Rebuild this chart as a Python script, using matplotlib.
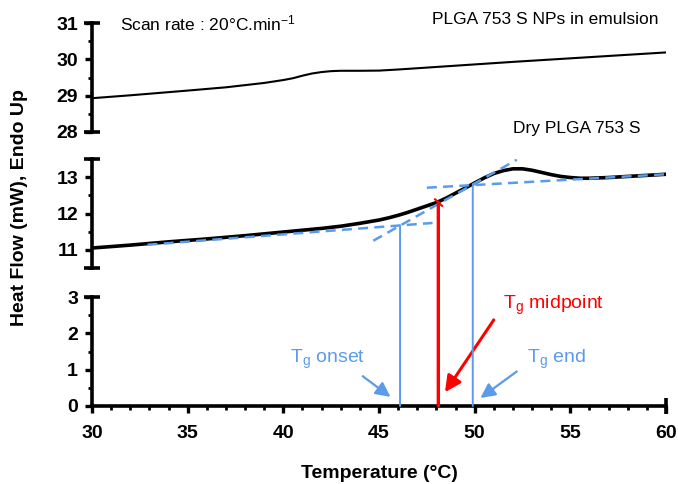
import matplotlib
matplotlib.use('Agg')
import matplotlib.pyplot as plt
from matplotlib.patches import ConnectionPatch

plt.rcParams['font.family'] = ['Liberation Sans', 'DejaVu Sans']
plt.rcParams['mathtext.default'] = 'regular'

# ---- data ----
# PLGA 753 S NPs in emulsion (top panel)
temp_np = [30, 32, 35, 37, 38, 39, 40, 40.5, 41, 41.5, 42, 42.5, 43, 44, 45,
           46, 48, 50, 52, 56, 60]
hf_np = [28.93, 29.01, 29.14, 29.23, 29.29, 29.35, 29.43, 29.48, 29.55, 29.61,
         29.65, 29.675, 29.685, 29.685, 29.69, 29.72, 29.79, 29.86, 29.93,
         30.06, 30.19]

# Dry PLGA 753 S (middle panel)
temp_dry = [30, 32, 34, 36, 38, 40, 42, 43, 44, 45, 45.5, 46, 46.5, 47, 47.5,
            48, 48.5, 49, 49.5, 50, 50.5, 51, 51.5, 52, 52.5, 53, 53.5, 54,
            54.5, 55, 55.5, 56, 57, 58, 60]
hf_dry = [11.05, 11.13, 11.22, 11.30, 11.39, 11.49, 11.59, 11.65, 11.73, 11.82,
          11.88, 11.95, 12.03, 12.12, 12.21, 12.30, 12.42, 12.56, 12.70, 12.84,
          12.98, 13.10, 13.18, 13.23, 13.23, 13.19, 13.13, 13.07, 13.02, 12.99,
          12.97, 12.97, 12.99, 13.02, 13.08]

# construction lines (dashed)
base1_t = [32.9, 47.8]
base1_hf = [11.14, 11.74]
tang_t = [44.7, 52.2]
tang_hf = [11.25, 13.48]
base2_t = [47.5, 60]
base2_hf = [12.71, 13.08]

# Tg onset / midpoint / end
tg_names = ['onset', 'midpoint', 'end']
tg_t = [46.1, 48.1, 49.9]
tg_hf = [11.67, 12.31, 12.80]

blue = '#5B9BEA'
red = '#FF0000'

fig = plt.figure(figsize=(6.78, 4.84), dpi=100)
L = 92 / 678
W = (666 - 92) / 678
H = 109 / 484
ax_top = fig.add_axes([L, (484 - 132) / 484, W, H])
ax_mid = fig.add_axes([L, (484 - 268) / 484, W, H])
ax_bot = fig.add_axes([L, (484 - 406) / 484, W, H])

for ax, ylim, yt in [(ax_top, (28, 31), [28, 29, 30, 31]),
                     (ax_mid, (10.5, 13.5), [11, 12, 13]),
                     (ax_bot, (0, 3), [0, 1, 2, 3])]:
    ax.set_xlim(30, 60)
    ax.set_ylim(*ylim)
    ax.set_yticks(yt)
    ax.set_yticks([v / 2 for v in range(int(ylim[0] * 2), int(ylim[1] * 2) + 1)], minor=True)
    ax.set_xticks(range(30, 61, 5))
    ax.set_xticks(range(30, 61), minor=True)
    ax.spines['top'].set_visible(False)
    ax.spines['right'].set_visible(False)
    ax.spines['left'].set_linewidth(2.6)
    ax.spines['bottom'].set_linewidth(2.6)
    ax.tick_params(which='major', direction='out', length=5, width=2.4,
                   labelsize=14, pad=5)
    ax.tick_params(which='minor', direction='out', length=3, width=2)
    for lab in ax.get_yticklabels() + ax.get_xticklabels():
        lab.set_fontweight('bold')
    ax.patch.set_alpha(0)
    # cap at top of the left spine
    ax.plot([0], [1], marker='_', ms=11, mew=2.6, color='k',
            transform=ax.transAxes, clip_on=False)
    if ax is not ax_bot:
        ax.spines['bottom'].set_visible(False)
        ax.tick_params(axis='x', which='both', bottom=False, labelbottom=False)
        ax.plot([0], [0], marker='_', ms=11, mew=2.6, color='k',
                transform=ax.transAxes, clip_on=False)

ax_bot.tick_params(axis='x', which='major', pad=9)
ax_bot.plot([1], [0], marker='|', ms=11, mew=2.6, color='k',
            transform=ax_bot.transAxes, clip_on=False)

# curves
ax_top.plot(temp_np, hf_np, color='k', lw=1.5)
ax_mid.plot(temp_dry, hf_dry, color='k', lw=2.6)
for tx, hy in [(base1_t, base1_hf), (tang_t, tang_hf), (base2_t, base2_hf)]:
    ax_mid.plot(tx, hy, color=blue, lw=1.8, ls=(0, (4, 2.5)))

# vertical Tg lines running from the bottom panel up to the curve
for name, t, h in zip(tg_names, tg_t, tg_hf):
    c = red if name == 'midpoint' else blue
    lw = 2.4 if name == 'midpoint' else 1.4
    con = ConnectionPatch(xyA=(t, 0), coordsA=ax_bot.transData,
                          xyB=(t, h), coordsB=ax_mid.transData,
                          color=c, lw=lw)
    fig.add_artist(con)
ax_mid.plot([47.93, 48.3], [12.39, 12.21], color=red, lw=1.5)

# annotations
ax_bot.annotate('', xy=(45.6, 0.25), xytext=(44.15, 0.82),
                arrowprops=dict(arrowstyle='-|>', color=blue, lw=1.6, mutation_scale=22,
                                shrinkA=0, shrinkB=0))
ax_bot.text(40.35, 1.27, 'T$_g$ onset', color=blue, fontsize=14, ha='left', va='center')
ax_bot.annotate('', xy=(50.3, 0.22), xytext=(52.2, 0.95),
                arrowprops=dict(arrowstyle='-|>', color=blue, lw=1.6, mutation_scale=22,
                                shrinkA=0, shrinkB=0))
ax_bot.text(52.74, 1.27, 'T$_g$ end', color=blue, fontsize=14, ha='left', va='center')
ax_bot.annotate('', xy=(48.45, 0.38), xytext=(51.0, 2.37),
                arrowprops=dict(arrowstyle='-|>', color=red, lw=2.2, mutation_scale=24,
                                shrinkA=0, shrinkB=0))
ax_bot.text(51.5, 2.78, 'T$_g$ midpoint', color=red, fontsize=14, ha='left', va='center')

ax_top.text(31.46, 31.0, 'Scan rate : 20°C.min$^{-1}$', fontsize=12.5,
            ha='left', va='center')
ax_top.text(59.6, 31.11, 'PLGA 753 S NPs in emulsion', fontsize=12.5,
            ha='right', va='center')
ax_mid.text(58.65, 14.33, 'Dry PLGA 753 S', fontsize=12.5, ha='right', va='center')

fig.text(20 / 678, 1 - 208 / 484, 'Heat Flow (mW), Endo Up', rotation=90,
         ha='center', va='center', fontsize=14, fontweight='bold')
fig.text(379 / 678, 1 - 473 / 484, 'Temperature (°C)', ha='center', va='center',
         fontsize=14, fontweight='bold')

fig.savefig('out.png', dpi=100)
